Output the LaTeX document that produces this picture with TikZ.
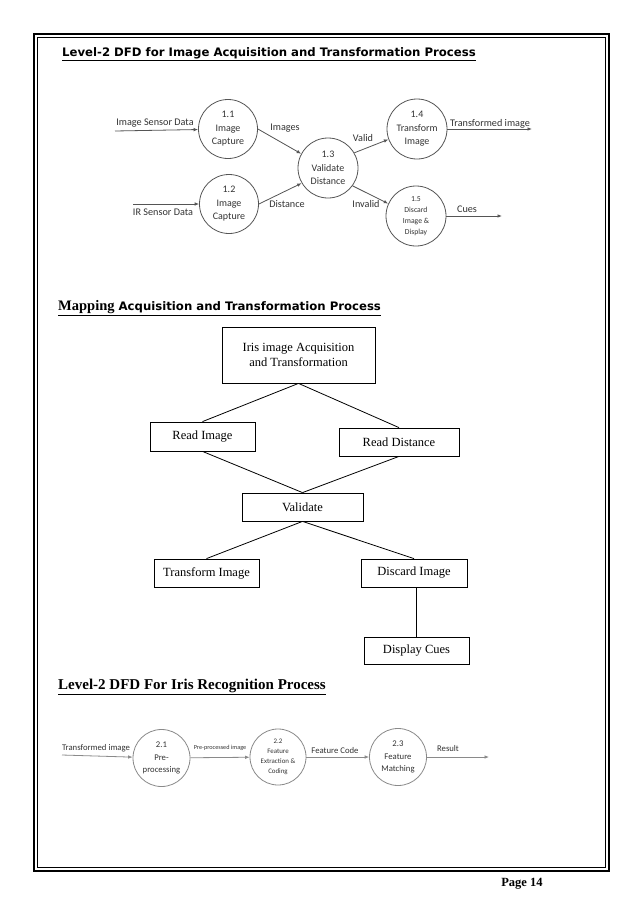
\documentclass[tikz,border=0pt]{standalone}
\usepackage{fontspec}
\setmainfont{Liberation Serif}
\newfontfamily\calib{Carlito}
\newfontfamily\verd{DejaVu Sans}
\usetikzlibrary{arrows.meta}
\definecolor{dfdline}{HTML}{555555}
\definecolor{dfdline2}{HTML}{8A8A8A}
\definecolor{dfdtext}{HTML}{333333}
\tikzset{
  proc/.style={circle, draw=dfdline, line width=0.8pt, inner sep=0pt, minimum size=59pt, align=center, text=dfdtext, font=\calib\fontsize{10}{13.5}\selectfont},
  proctwo/.style={circle, draw=dfdline2, line width=0.8pt, inner sep=0pt, minimum size=57pt, align=center, text=dfdtext, font=\calib\fontsize{8.7}{12.5}\selectfont},
  flow/.style={draw=dfdline, line width=0.8pt, -{Latex[length=4.5pt,width=3.6pt]}},
  flowtwo/.style={draw=dfdline2, line width=0.8pt, -{Latex[length=4.5pt,width=3.6pt]}},
  lbl/.style={inner sep=0pt, text=dfdtext, font=\calib\fontsize{10.2}{11}\selectfont},
  lbltwo/.style={inner sep=0pt, text=dfdtext, font=\calib\fontsize{8.7}{10}\selectfont},
  mbox/.style={draw=black, line width=0.8pt, inner sep=0pt, align=center, font=\fontsize{12.5}{14.5}\selectfont},
  mline/.style={draw=black, line width=0.8pt},
  ttl/.style={anchor=west, inner sep=0pt}
}
\begin{document}
\begin{tikzpicture}[x=1pt,y=-1pt]
\useasboundingbox (0,0) rectangle (638,902);
\fill[white] (0,0) rectangle (638,902);
% page frame
\draw[line width=2.6pt] (34,34) rectangle (609,871);
\draw[line width=0.8pt] (37.5,37.5) rectangle (605.5,867.5);

% ---------- Title 1
\node[ttl] (t1) at (62,54) {\verd\bfseries\fontsize{11.7}{13}\selectfont\underline{Level-2 DFD for Image Acquisition and Transformation Process}};

% ---------- DFD 1
\node[proc] (c11) at (228,129) {1.1\\Image\\Capture};
\node[proc] (c12) at (229,204) {1.2\\Image\\Capture};
\node[proc, minimum size=60pt] (c13) at (328,168) {1.3\\Validate\\Distance};
\node[proc, minimum size=60pt] (c14) at (417,129) {1.4\\Transform\\Image};
\node[proc, minimum size=60pt, font=\calib\fontsize{7.7}{11}\selectfont] (c15) at (416,216) {1.5\\Discard\\Image \&\\Display};

\coordinate (isd) at (115,131);
\coordinate (irs) at (133,204);
\coordinate (tio) at (532,129);
\coordinate (cuo) at (502,216);

\draw[flow] (isd) -- (c11);
\draw[flow] (irs) -- (c12);
\draw[flow] (c11.east) -- (c13.152);
\draw[flow] (c12.east) -- (c13.210);
\draw[flow] (c13.30) -- (c14.200);
\draw[flow] (c13.324) -- (c15.156);
\draw[flow] (c14.east) -- (tio);
\draw[flow] (c15.east) -- (cuo);

\node[lbl] (lisd) at (155,123) {Image Sensor Data};
\node[lbl] (lirs) at (163,212) {IR Sensor Data};
\node[lbl] (limg) at (285,128) {Images};
\node[lbl] (ldis) at (287,204) {Distance};
\node[lbl] (lval) at (363,138) {Valid};
\node[lbl] (linv) at (366,204) {Invalid};
\node[lbl] (ltri) at (490,124) {Transformed image};
\node[lbl] (lcue) at (467,209) {Cues};

% ---------- Title 2
\node[ttl] (t2) at (58,308) {\bfseries\fontsize{14.5}{16}\selectfont\underline{Mapping\verd\fontsize{11.7}{13}\selectfont\ Acquisition and Transformation Process}};

% ---------- Mapping tree
\node[mbox, minimum width=153pt, minimum height=56pt] (top) at (298.5,355) {Iris image Acquisition\\and Transformation};
\node[mbox, minimum width=105pt, minimum height=29pt] (ri) at (202.5,436.5) {Read Image};
\node[mbox, minimum width=120pt, minimum height=28pt] (rd) at (399,442) {Read Distance};
\node[mbox, minimum width=121pt, minimum height=28pt] (val) at (302.5,507) {Validate};
\node[mbox, minimum width=105pt, minimum height=28pt] (tri) at (206.5,573) {Transform Image};
\node[mbox, minimum width=106pt, minimum height=28pt] (di) at (414,573) {Discard Image};
\node[mbox, minimum width=105pt, minimum height=27pt] (dc) at (416.5,650.5) {Display Cues};

\draw[mline] (top.south) -- (ri.north);
\draw[mline] (top.south) -- (rd.north);
\draw[mline] (ri.south) -- (val.north);
\draw[mline] (rd.south) -- (val.north);
\draw[mline] (val.south) -- (tri.north);
\draw[mline] (val.south) -- (di.north);
\draw[mline] ([xshift=2.5pt]di.south) -- ([xshift=2.5pt]di.south |- dc.north);

% ---------- Title 3
\node[ttl] (t3) at (58,687) {\bfseries\fontsize{15}{17}\selectfont\underline{Level-2 DFD For Iris Recognition Process}};

% ---------- DFD 2
\node[proctwo] (c21) at (161.5,758) {2.1\\Pre-\\processing};
\node[proctwo, minimum size=56pt, font=\calib\fontsize{6.9}{10}\selectfont] (c22) at (278,757) {2.2\\Feature\\Extraction \&\\Coding};
\node[proctwo] (c23) at (398,757) {2.3\\Feature\\Matching};

\coordinate (tin) at (62,755);
\coordinate (rso) at (489,757);

\draw[flowtwo] (tin) -- (c21);
\draw[flowtwo] (c21) -- (c22);
\draw[flowtwo] (c22) -- (c23);
\draw[flowtwo] (c23.east) -- (rso);

\node[lbltwo] (ltin) at (96,748) {Transformed image};
\node[lbltwo, font=\calib\fontsize{6.2}{7}\selectfont] (lppi) at (220,748) {Pre-processed image};
\node[lbltwo] (lfc) at (335,751) {Feature Code};
\node[lbltwo] (lres) at (448,749) {Result};

% ---------- page number
\node[inner sep=0pt] (pg) at (522,884) {\bfseries\fontsize{12.5}{14}\selectfont Page 14};
\end{tikzpicture}
\end{document}
